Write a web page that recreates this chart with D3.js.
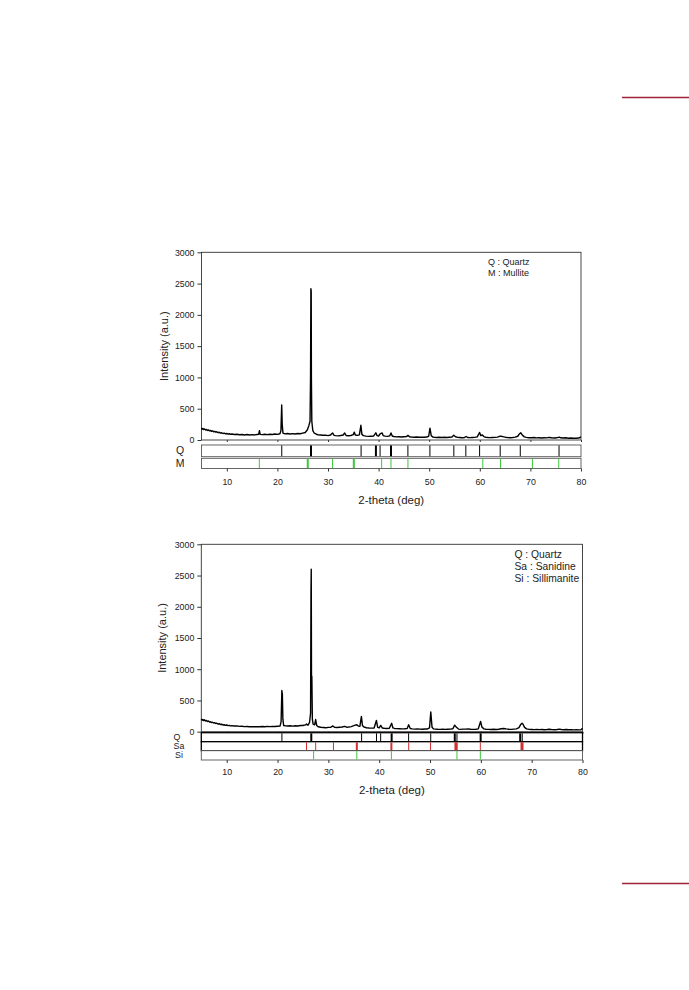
<!DOCTYPE html>
<html><head><meta charset="utf-8">
<script src="https://cdn.jsdelivr.net/npm/d3@7"></script>
<style>
html,body{margin:0;padding:0;background:#fff;}
svg{display:block;font-family:"Liberation Sans",Arial,sans-serif;}
</style></head><body>
<svg id="c" width="689" height="990"></svg>
<script>
// ---------- data ----------
const xTicks = [10, 20, 30, 40, 50, 60, 70, 80];
const yTicks = [0, 500, 1000, 1500, 2000, 2500, 3000];

// pattern 1: [2theta, intensity]
const pattern1 = [[5.0,195],[5.15,172],[5.3,182],[5.45,168],[5.6,178],[5.8,160],[6.0,168],[6.2,152],[6.4,160],[6.6,146],[6.8,152],[7.0,138],[7.2,146],[7.4,132],[7.6,138],[7.8,126],[8.0,132],[8.25,118],[8.5,124],[8.75,110],[9.0,116],[9.25,104],[9.5,110],[9.75,98],[10.0,104],[10.25,94],[10.5,100],[10.75,90],[11.0,96],[11.5,88],[12.0,92],[12.5,84],[13.0,88],[13.5,80],[14.0,87],[14.5,80],[15.0,86],[15.5,81],[16.0,88],[16.3,92],[16.45,150],[16.6,90],[17.0,86],[17.5,91],[18.0,85],[18.5,92],[19.0,88],[19.5,95],[20.0,90],[20.5,100],[20.7,150],[20.85,560],[20.95,250],[21.1,110],[21.5,98],[22.0,104],[22.5,96],[23.0,102],[23.5,95],[24.0,103],[24.5,100],[25.0,110],[25.5,120],[25.9,160],[26.2,225],[26.45,300],[26.55,1000],[26.62,2420],[26.68,2380],[26.72,980],[26.8,300],[27.0,150],[27.3,108],[27.7,92],[28.0,84],[28.5,80],[29.0,76],[29.5,77],[30.0,70],[30.5,80],[30.9,112],[31.2,74],[31.5,70],[32.0,66],[32.5,72],[33.0,80],[33.3,112],[33.6,70],[34.0,68],[34.5,72],[35.0,86],[35.2,126],[35.4,80],[35.8,74],[36.2,82],[36.5,235],[36.7,90],[37.0,70],[37.5,62],[38.0,58],[38.5,60],[39.0,62],[39.45,115],[39.7,70],[40.0,64],[40.3,96],[40.7,112],[40.9,70],[41.3,62],[41.8,58],[42.2,66],[42.45,112],[42.7,64],[43.0,56],[43.5,50],[44.0,52],[44.5,47],[45.0,52],[45.5,54],[45.8,74],[46.1,52],[46.5,47],[47.0,45],[47.5,47],[48.0,43],[48.5,46],[49.0,43],[49.5,47],[49.9,60],[50.15,190],[50.4,70],[50.7,48],[51.0,44],[51.5,41],[52.0,44],[52.5,39],[53.0,43],[53.5,40],[54.0,45],[54.5,48],[54.85,76],[55.2,52],[55.6,42],[56.0,40],[56.5,37],[57.0,41],[57.3,56],[57.6,40],[58.0,38],[58.5,41],[59.0,42],[59.5,50],[59.95,120],[60.2,70],[60.5,80],[60.8,55],[61.2,42],[61.7,39],[62.0,38],[62.5,41],[63.0,42],[63.5,46],[64.0,62],[64.5,55],[65.0,45],[65.5,40],[66.0,37],[66.5,41],[67.0,46],[67.5,60],[67.8,95],[68.1,115],[68.4,80],[68.8,50],[69.2,42],[69.7,37],[70.2,36],[70.7,39],[71.2,34],[71.7,37],[72.2,33],[72.7,36],[73.2,34],[73.7,41],[74.2,35],[74.7,32],[75.2,35],[75.7,45],[76.0,35],[76.5,31],[77.0,35],[77.5,29],[78.0,33],[78.5,29],[79.0,28],[79.5,31],[79.8,40],[80.0,50]];

// pattern 2
const pattern2 = [[5.0,205],[5.15,185],[5.3,196],[5.45,180],[5.6,190],[5.8,172],[6.0,180],[6.2,164],[6.4,172],[6.6,156],[6.8,160],[7.0,146],[7.2,152],[7.4,140],[7.6,145],[7.8,132],[8.0,138],[8.25,124],[8.5,128],[8.75,116],[9.0,120],[9.25,108],[9.5,112],[9.75,102],[10.0,108],[10.25,98],[10.5,102],[10.75,94],[11.0,98],[11.5,92],[12.0,93],[12.5,86],[13.0,87],[13.5,82],[14.0,84],[14.5,80],[15.0,82],[15.5,79],[16.0,82],[16.5,80],[17.0,83],[17.5,80],[18.0,85],[18.5,81],[19.0,86],[19.5,84],[20.0,88],[20.5,92],[20.7,160],[20.85,660],[20.95,600],[21.05,200],[21.2,100],[21.6,94],[22.0,92],[22.5,96],[23.0,90],[23.5,95],[24.0,92],[24.5,99],[25.0,100],[25.5,110],[25.7,122],[26.0,104],[26.3,150],[26.5,300],[26.58,2200],[26.63,2600],[26.68,900],[26.75,880],[26.85,200],[27.0,120],[27.3,110],[27.5,195],[27.7,100],[28.0,80],[28.5,72],[29.0,68],[29.5,64],[30.0,69],[30.5,72],[30.9,92],[31.2,70],[31.7,67],[32.2,71],[32.7,75],[33.2,86],[33.6,72],[34.0,76],[34.5,82],[35.0,96],[35.3,106],[35.6,112],[35.9,90],[36.2,85],[36.5,245],[36.7,100],[37.0,75],[37.5,64],[38.0,60],[38.5,57],[39.0,60],[39.45,180],[39.7,70],[40.0,62],[40.3,100],[40.6,60],[41.0,55],[41.5,51],[42.0,55],[42.45,135],[42.7,60],[43.0,52],[43.5,49],[44.0,48],[44.5,45],[45.0,48],[45.5,52],[45.8,110],[46.1,52],[46.5,45],[47.0,42],[47.5,45],[48.0,41],[48.5,40],[49.0,43],[49.5,44],[49.9,60],[50.15,315],[50.4,70],[50.7,45],[51.0,42],[51.5,39],[52.0,38],[52.5,41],[53.0,37],[53.5,40],[54.0,42],[54.5,48],[54.85,105],[55.2,70],[55.6,42],[56.0,38],[56.5,41],[57.0,42],[57.5,46],[58.0,40],[58.5,37],[59.0,40],[59.5,46],[59.95,165],[60.2,75],[60.6,45],[61.0,40],[61.5,37],[62.0,36],[62.5,39],[63.0,35],[63.5,40],[64.0,48],[64.5,52],[65.0,45],[65.5,40],[66.0,37],[66.5,42],[67.0,45],[67.5,65],[67.8,110],[68.1,135],[68.3,120],[68.6,70],[69.0,45],[69.5,38],[70.0,36],[70.5,34],[71.0,38],[71.5,33],[72.0,36],[72.5,32],[73.0,35],[73.5,39],[74.0,34],[74.5,32],[75.0,35],[75.5,42],[75.8,36],[76.3,32],[76.8,35],[77.3,31],[77.8,34],[78.3,29],[78.8,32],[79.3,29],[79.7,32],[80.0,55]];

// reference stick patterns: [2theta, strong?]
const quartz1   = [[20.86,0],[26.64,1],[36.54,0],[39.47,1],[40.29,0],[42.45,1],[45.79,0],[50.14,0],[54.87,0],[57.24,0],[59.96,0],[64.03,0],[68.0,0],[75.66,0]];
const mullite1  = [[16.43,0],[26.0,1],[30.9,0],[35.1,1],[40.6,0],[42.45,0],[45.8,0],[60.6,0],[64.1,0],[70.4,0],[75.6,0]];
const quartz2   = [[20.86,0],[26.64,1],[36.54,0],[39.47,0],[40.29,0],[42.45,1],[45.79,0],[50.14,0],[54.87,1],[55.3,0],[59.96,1],[67.74,1],[68.14,0]];
const sanidine2 = [[25.7,0],[27.5,0],[31.0,0],[35.6,1],[42.4,1],[45.8,0],[50.1,0],[55.0,1],[55.25,1],[59.9,0],[68.0,1],[68.2,1]];
const sillim2   = [[27.1,0],[35.6,0],[42.4,0],[55.3,0],[59.9,0]];

const legend1 = ["Q : Quartz", "M : Mullite"];
const legend2 = ["Q : Quartz", "Sa : Sanidine", "Si : Sillimanite"];

// ---------- drawing ----------
const svg = d3.select("#c");
const TXT = "#222";

// page decoration lines
svg.append("line").attr("x1",622).attr("x2",689).attr("y1",97.5).attr("y2",97.5).attr("stroke","#9e2336").attr("stroke-width",1.3);
svg.append("line").attr("x1",622).attr("x2",689).attr("y1",883.5).attr("y2",883.5).attr("stroke","#9e2336").attr("stroke-width",1.3);

function panel(cfg){
  const g = svg.append("g");
  const x = d3.scaleLinear().domain([5,80]).range([cfg.x0, cfg.x1]);
  const y = d3.scaleLinear().domain([0,3000]).range([cfg.y0, cfg.y1]);

  // frame
  g.append("rect").attr("x",cfg.x0).attr("y",cfg.y1).attr("width",cfg.x1-cfg.x0).attr("height",cfg.y0-cfg.y1)
    .attr("fill","none").attr("stroke","#333").attr("stroke-width",0.9);

  // y axis
  const ya = g.append("g").attr("transform",`translate(${cfg.x0},0)`)
    .call(d3.axisLeft(y).tickValues(yTicks).tickSize(4).tickPadding(3).tickFormat(d3.format("d")));
  ya.select(".domain").remove();
  ya.selectAll("line").attr("stroke","#333");
  ya.selectAll("text").attr("font-size",8.8).attr("fill",TXT);

  // x minor ticks under plot
  const xa0 = g.append("g").attr("transform",`translate(0,${cfg.y0})`)
    .call(d3.axisBottom(x).tickValues(xTicks).tickSize(2).tickFormat(""));
  xa0.select(".domain").remove();
  xa0.selectAll("line").attr("stroke","#333");

  // data line
  const line = d3.line().x(d=>x(d[0])).y(d=>y(d[1]));
  g.append("path").datum(cfg.data).attr("d",line).attr("fill","none")
    .attr("stroke","#000").attr("stroke-width",1.4).attr("stroke-linejoin","round");

  // strips
  cfg.strips.forEach(s=>{
    g.append("rect").attr("x",cfg.x0).attr("y",s.top).attr("width",cfg.x1-cfg.x0).attr("height",s.bottom-s.top)
      .attr("fill","#fff").attr("stroke",s.border).attr("stroke-width",s.bw);
    g.selectAll(null).data(s.sticks).enter().append("line")
      .attr("x1",d=>x(d[0])).attr("x2",d=>x(d[0]))
      .attr("y1",s.top+s.bw/2).attr("y2",s.bottom-s.bw/2)
      .attr("stroke",s.color).attr("stroke-width",d=>d[1]?2:1);
    g.append("text").attr("x",s.lx).attr("y",(s.top+s.bottom)/2+s.fs*0.34)
      .attr("text-anchor","middle").attr("font-size",s.fs).attr("fill",TXT).text(s.label);
  });

  // x axis below strips
  const lastB = cfg.strips[cfg.strips.length-1].bottom;
  const xa = g.append("g").attr("transform",`translate(0,${lastB})`)
    .call(d3.axisBottom(x).tickValues(xTicks).tickSize(3).tickPadding(cfg.tickPad).tickFormat(d3.format("d")));
  xa.select(".domain").remove();
  xa.selectAll("line").attr("stroke","#333");
  xa.selectAll("text").attr("font-size",8.8).attr("fill",TXT);

  // titles
  g.append("text").attr("x",(cfg.x0+cfg.x1)/2).attr("y",cfg.xtY).attr("text-anchor","middle")
    .attr("font-size",11.5).attr("fill",TXT).text("2-theta (deg)");
  g.append("text").attr("transform",`translate(${cfg.ytX},${(cfg.y0+cfg.y1)/2}) rotate(-90)`)
    .attr("text-anchor","middle").attr("font-size",11).attr("fill",TXT).text("Intensity (a.u.)");

  // legend
  g.selectAll(null).data(cfg.legend).enter().append("text")
    .attr("x",cfg.lgX).attr("y",(d,i)=>cfg.lgY+i*cfg.lgDy)
    .attr("font-size",cfg.lgFs).attr("fill",TXT).text(d=>d);
}

panel({
  x0:201.5, x1:581, y0:440, y1:252.3, data:pattern1,
  strips:[
    {top:445, bottom:456.7, sticks:quartz1, color:"#000", border:"#555", bw:0.9, label:"Q", lx:180, fs:10.5},
    {top:458.3, bottom:468.5, sticks:mullite1, color:"#3cc83c", border:"#555", bw:0.9, label:"M", lx:180, fs:10.5}
  ],
  tickPad:7, xtY:504, ytX:168,
  legend:legend1, lgX:488, lgY:265, lgDy:10.5, lgFs:9
});

panel({
  x0:201.3, x1:582.5, y0:731.7, y1:544.3, data:pattern2,
  strips:[
    {top:732.7, bottom:741.7, sticks:quartz2, color:"#000", border:"#000", bw:1.3, label:"Q", lx:177, fs:8.8},
    {top:741.7, bottom:750.7, sticks:sanidine2, color:"#d03030", border:"#000", bw:1.3, label:"Sa", lx:179, fs:8.8},
    {top:750.7, bottom:760, sticks:sillim2, color:"#3cc83c", border:"#555", bw:0.9, label:"Si", lx:179, fs:8.8}
  ],
  tickPad:6, xtY:794, ytX:166,
  legend:legend2, lgX:514.5, lgY:558, lgDy:11.8, lgFs:10.3
});
</script>
</body></html>
